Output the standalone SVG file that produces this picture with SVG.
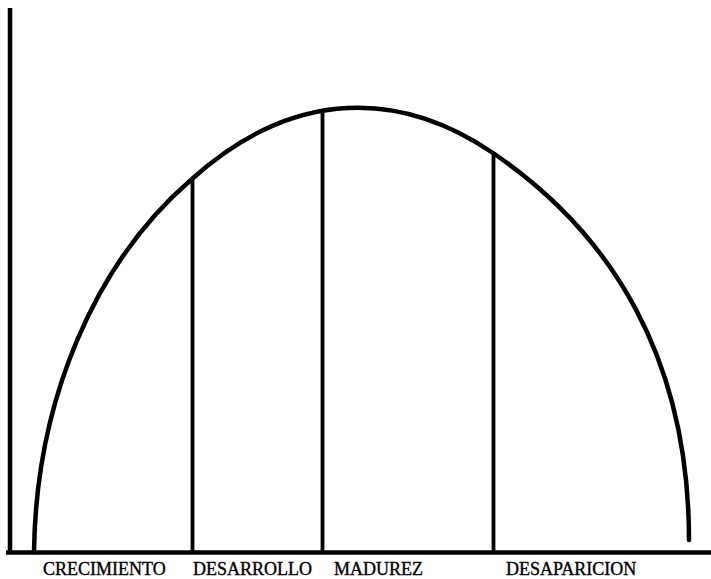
<svg xmlns="http://www.w3.org/2000/svg" width="711" height="579" viewBox="0 0 711 579">
<style>
.ax{stroke:#000;stroke-width:4.5;fill:none;stroke-linecap:butt}
.cv{stroke:#000;stroke-width:4.5;fill:none;stroke-linecap:round;stroke-linejoin:round}
.dv{stroke:#000;stroke-width:3.8;fill:none}
.lb{font-family:"Liberation Serif","Times New Roman",serif;font-size:18px;fill:#000;stroke:#000;stroke-width:0.35}
</style>
<rect width="711" height="579" fill="#fff"/>
<g id="axes">
<line class="ax" x1="10" y1="8" x2="10" y2="554"/>
<line class="ax" x1="6" y1="552.5" x2="711" y2="552.5"/>
</g>
<g id="curve">
<path class="cv" d="M34,552 C36,400 95,262 192,179 C282,98 388,81.6 493,153 C613,234.6 689,360 689,540"/>
</g>
<g id="connectors">
<line class="dv" x1="192.5" y1="178" x2="192.5" y2="552"/>
<line class="dv" x1="322.5" y1="109" x2="322.5" y2="552"/>
<line class="dv" x1="493.5" y1="152" x2="493.5" y2="552"/>
</g>
<g id="labels">
<text class="lb" x="43" y="575">CRECIMIENTO</text>
<text class="lb" x="193" y="575">DESARROLLO</text>
<text class="lb" x="334" y="575">MADUREZ</text>
<text class="lb" x="506" y="575">DESAPARICION</text>
</g>
</svg>
